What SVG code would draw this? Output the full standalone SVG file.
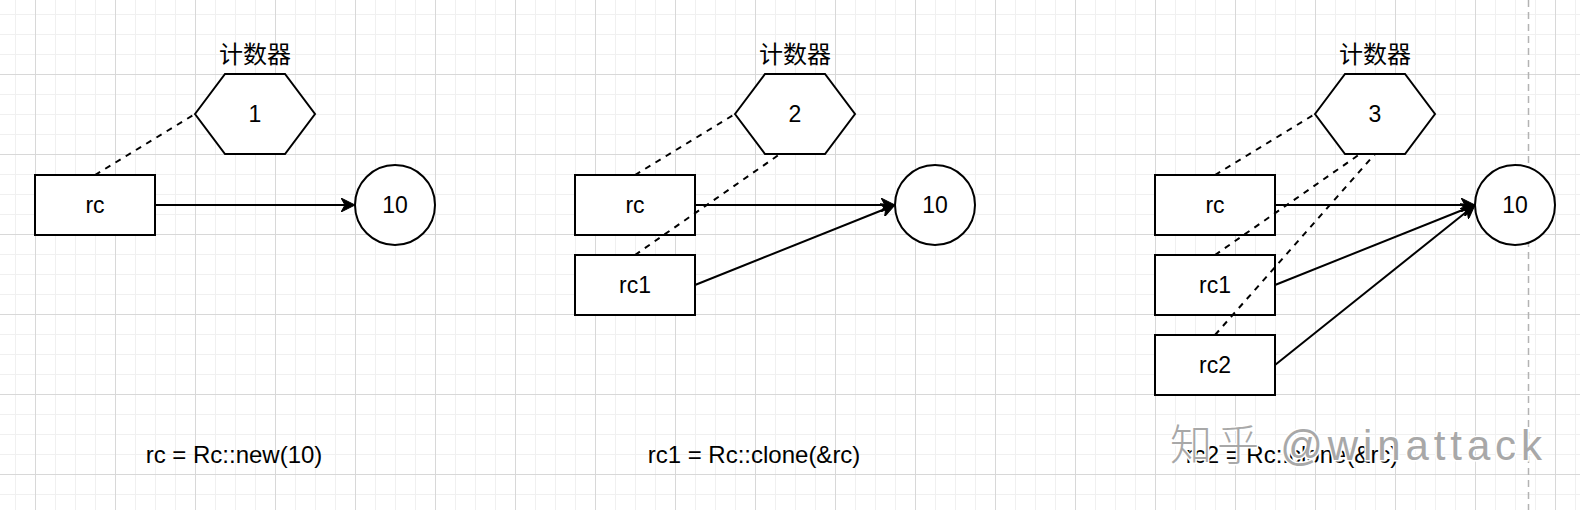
<svg xmlns="http://www.w3.org/2000/svg" width="1580" height="510" viewBox="0 0 1580 510">
  <style>
    .box { fill: #ffffff; stroke: #000000; stroke-width: 2; }
    .lbl { font-family: "Liberation Sans", Arial, sans-serif; font-size: 23px; fill: #000000; text-anchor: middle; }
    .cap { font-family: "Liberation Sans", Arial, sans-serif; font-size: 24px; fill: #000000; text-anchor: middle; }
    .cjk { font-family: "Liberation Sans", "Noto Sans CJK SC", sans-serif; font-size: 24px; fill: #000000; text-anchor: middle; }
    .ref { fill: none; stroke: #000000; stroke-width: 2; stroke-dasharray: 6 6; }
    .ptr { fill: none; stroke: #000000; stroke-width: 2; marker-end: url(#arrow); }
    .wm { font-family: "Liberation Sans", "Noto Sans CJK SC", sans-serif; font-size: 42px; fill: #a8a8a8; stroke: #ffffff; stroke-width: 3; paint-order: stroke; font-weight: 300; }
  </style>
  <defs>
    <pattern id="gridMinor" patternUnits="userSpaceOnUse" x="15" y="14" width="20" height="20">
      <path d="M0.5,0 V20 M0,0.5 H20" fill="none" stroke="#f0f0f0" stroke-width="1"/>
    </pattern>
    <pattern id="gridMajor" patternUnits="userSpaceOnUse" x="35" y="74" width="80" height="80">
      <path d="M0.5,0 V80 M0,0.5 H80" fill="none" stroke="#d8d8d8" stroke-width="1"/>
    </pattern>
    <marker id="arrow" viewBox="0 0 14 14" refX="4" refY="7" markerWidth="14" markerHeight="14" markerUnits="userSpaceOnUse" orient="auto">
      <path d="M0,0 L14,7 L0,14 L4,7 Z" fill="#000000" stroke="#000000" stroke-width="1" stroke-linejoin="miter"/>
    </marker>
  </defs>

  <rect x="0" y="0" width="1580" height="510" fill="#ffffff"/>
  <rect x="0" y="0" width="1580" height="510" fill="url(#gridMinor)"/>
  <rect x="0" y="0" width="1580" height="510" fill="url(#gridMajor)"/>
  <line x1="1528.5" y1="0" x2="1528.5" y2="510" stroke="#b3b3b3" stroke-width="1.5" stroke-dasharray="7 5"/>

  <!-- Panel 1 -->
  <g id="p1-counter">
    <text class="cjk" x="255" y="63">计数器</text>
    <polygon class="box" points="195,114 225,74 285,74 315,114 285,154 225,154"/>
    <text class="lbl" x="255" y="122">1</text>
  </g>
  <g id="p1-rc">
    <rect class="box" x="35" y="175" width="120" height="60"/>
    <text class="lbl" x="95" y="213">rc</text>
  </g>
  <g id="p1-value">
    <circle class="box" cx="395" cy="205" r="40"/>
    <text class="lbl" x="395" y="213">10</text>
  </g>
  <g id="p1-caption">
    <text class="cap" x="234" y="463">rc = Rc::new(10)</text>
  </g>

  <!-- Panel 2 -->
  <g id="p2-counter">
    <text class="cjk" x="795" y="63">计数器</text>
    <polygon class="box" points="735,114 765,74 825,74 855,114 825,154 765,154"/>
    <text class="lbl" x="795" y="122">2</text>
  </g>
  <g id="p2-rc">
    <rect class="box" x="575" y="175" width="120" height="60"/>
    <text class="lbl" x="635" y="213">rc</text>
  </g>
  <g id="p2-rc1">
    <rect class="box" x="575" y="255" width="120" height="60"/>
    <text class="lbl" x="635" y="293">rc1</text>
  </g>
  <g id="p2-value">
    <circle class="box" cx="935" cy="205" r="40"/>
    <text class="lbl" x="935" y="213">10</text>
  </g>
  <g id="p2-caption">
    <text class="cap" x="754" y="463">rc1 = Rc::clone(&amp;rc)</text>
  </g>

  <!-- Panel 3 -->
  <g id="p3-counter">
    <text class="cjk" x="1375" y="63">计数器</text>
    <polygon class="box" points="1315,114 1345,74 1405,74 1435,114 1405,154 1345,154"/>
    <text class="lbl" x="1375" y="122">3</text>
  </g>
  <g id="p3-rc">
    <rect class="box" x="1155" y="175" width="120" height="60"/>
    <text class="lbl" x="1215" y="213">rc</text>
  </g>
  <g id="p3-rc1">
    <rect class="box" x="1155" y="255" width="120" height="60"/>
    <text class="lbl" x="1215" y="293">rc1</text>
  </g>
  <g id="p3-rc2">
    <rect class="box" x="1155" y="335" width="120" height="60"/>
    <text class="lbl" x="1215" y="373">rc2</text>
  </g>
  <g id="p3-value">
    <circle class="box" cx="1515" cy="205" r="40"/>
    <text class="lbl" x="1515" y="213">10</text>
  </g>
  <g id="p3-caption">
    <text class="cap" x="1292" y="463">rc2 = Rc::clone(&amp;rc)</text>
  </g>

  <!-- Connectors -->
  <g id="connectors">
    <line class="ref" x1="95" y1="175" x2="195" y2="114"/>
    <line class="ptr" x1="155" y1="205" x2="345" y2="205"/>

    <line class="ref" x1="635" y1="175" x2="735" y2="114"/>
    <line class="ref" x1="635" y1="255" x2="780" y2="154"/>
    <line class="ptr" x1="695" y1="205" x2="885" y2="205"/>
    <line class="ptr" x1="695" y1="285" x2="885.7" y2="208.7"/>

    <line class="ref" x1="1215" y1="175" x2="1315" y2="114"/>
    <line class="ref" x1="1215" y1="255" x2="1360" y2="154"/>
    <line class="ref" x1="1215" y1="335" x2="1375" y2="154"/>
    <line class="ptr" x1="1275" y1="205" x2="1465" y2="205"/>
    <line class="ptr" x1="1275" y1="285" x2="1465.7" y2="208.7"/>
    <line class="ptr" x1="1275" y1="365" x2="1467.2" y2="211.25"/>
  </g>

  <text class="wm" x="1170" y="460" textLength="372" lengthAdjust="spacing">知乎 @winattack</text>
</svg>
